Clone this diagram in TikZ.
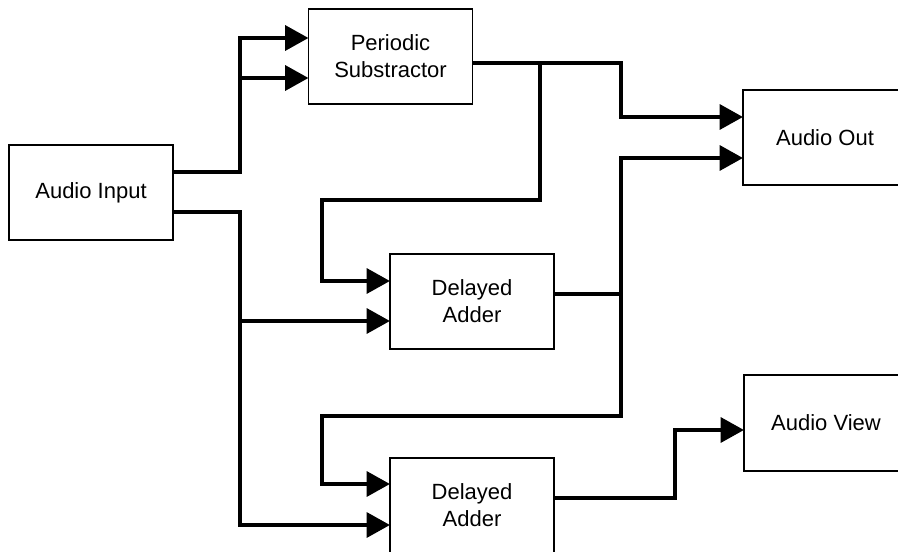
\documentclass[tikz,border=0pt]{standalone}
\usepackage{fontspec}
\setmainfont{Liberation Sans}
\usetikzlibrary{arrows.meta,calc}
\begin{document}
\begin{tikzpicture}[x=0.75pt,y=-0.75pt,
  box/.style={draw=black,line width=0.9pt,rectangle,inner sep=0pt,outer sep=0pt,
    minimum width=123pt,minimum height=71.25pt,align=center,
    font=\fontsize{16.5}{20.25}\selectfont},
  wire/.style={line width=3.2pt,line join=miter},
  tip/.style={-{Triangle[length=17.5pt,width=18.5pt]}},
  tips/.style={{Triangle[length=17.5pt,width=18.5pt]}-{Triangle[length=17.5pt,width=18.5pt]}}]
\useasboundingbox (0,0) rectangle (898,552);
\node[box] (ain) at (91,192.5) {Audio Input};
\node[box] (ps) at (390.5,56.5) {Periodic\\Substractor};
\node[box] (out) at (825,137.5) {Audio Out};
\node[box] (da1) at (472,301.5) {Delayed\\Adder};
\node[box] (da2) at (472,505.5) {Delayed\\Adder};
\node[box,minimum height=72pt] (av) at (826,423) {Audio View};
\coordinate (j1) at (240,78);
\coordinate (j2) at (240,321);
\coordinate (j3) at (540,63);
\coordinate (j4) at (621,294);
% audio input to periodic substractor
\draw[wire,tip] ($(ain.north east)+(0,27)$) -- (240,172) -- (240,38) -- ($(ps.north west)+(0,29)$);
\draw[wire,tip] (j1) -- ($(ps.north west)+(0,69)$);
% audio input to delayed adders
\draw[wire,tip] ($(ain.north east)+(0,67)$) -- (240,212) -- (240,525) -- ($(da2.north west)+(0,67)$);
\draw[wire,tip] (j2) -- ($(da1.north west)+(0,67)$);
% periodic substractor output
\draw[wire,tip] ($(ps.north east)+(0,54)$) -- (621,63) -- (621,117) -- ($(out.north west)+(0,27)$);
\draw[wire,tip] (j3) -- (540,200) -- (322,200) -- (322,281) -- ($(da1.north west)+(0,27)$);
% delayed adder 1 output
\draw[wire] ($(da1.north east)+(0,40)$) -- (j4);
\draw[wire,tips] ($(out.north west)+(0,68)$) -- (621,158) -- (621,416) -- (322,416) -- (322,484) -- ($(da2.north west)+(0,26)$);
% delayed adder 2 output
\draw[wire,tip] ($(da2.north east)+(0,40)$) -- (675,498) -- (675,430) -- ($(av.north west)+(0,55)$);
\end{tikzpicture}
\end{document}
